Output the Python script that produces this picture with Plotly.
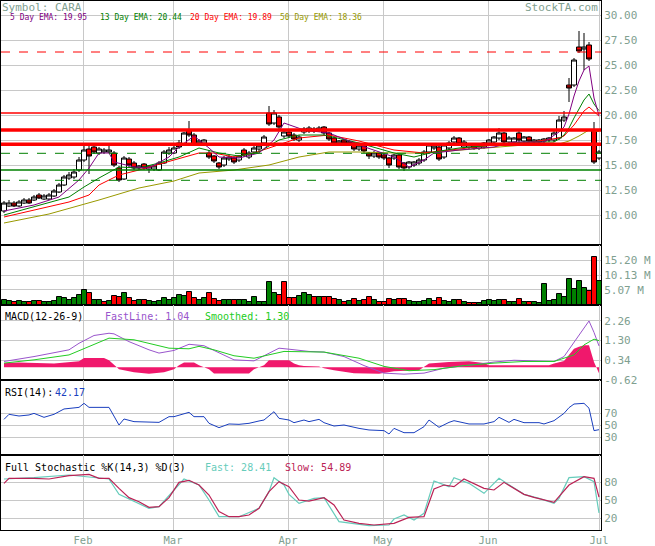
import plotly.graph_objects as go
from plotly.subplots import make_subplots

# ---------------- data ----------------
day = list(range(120))
opens = [10.4, 10.9, 11.2, 10.9, 11.2, 11.5, 11.5, 12.0, 11.6, 11.6,
         11.9, 12.3, 13.0, 13.7, 13.8, 14.5, 15.5, 16.6, 16.8, 16.2,
         16.3, 16.3, 16.2, 14.7, 13.6, 15.6, 15.2, 14.7, 15.1, 14.6,
         14.6, 14.5, 15.2, 16.2, 16.2, 17.2, 17.0, 18.5, 18.0, 17.2,
         17.2, 16.2, 15.9, 15.2, 15.0, 15.6, 15.7, 15.5, 16.5, 15.8,
         16.3, 16.6, 17.2, 20.2, 19.2, 19.8, 17.9, 18.3, 18.0, 17.5,
         18.3, 18.4, 18.6, 18.5, 18.8, 18.2, 17.7, 17.2, 17.5, 17.2,
         17.2, 16.6, 16.9, 16.2, 15.9, 16.2, 16.0, 15.7, 15.7, 16.0,
         15.2, 14.8, 15.0, 15.2, 15.5, 16.3, 16.7, 16.8, 15.8, 16.7,
         17.3, 17.7, 16.8, 16.8, 17.0, 16.7, 16.8, 17.2, 17.3, 17.7,
         18.2, 17.3, 17.3, 18.2, 17.4, 17.8, 17.3, 17.3, 17.4, 17.5,
         17.5, 17.7, 19.5, 23.0, 23.0, 26.8, 26.6, 27.0, 18.5, 15.7]
closes = [11.2, 11.2, 10.9, 11.3, 11.5, 11.2, 11.8, 11.7, 11.9, 12.0,
          12.4, 13.0, 13.8, 14.0, 14.3, 15.5, 16.5, 15.9, 16.3, 16.6,
          16.5, 16.5, 15.0, 13.5, 15.7, 15.0, 14.7, 14.9, 14.7, 14.9,
          14.9, 15.2, 16.3, 16.5, 16.7, 16.8, 18.2, 18.0, 17.0, 17.4,
          17.5, 15.8, 15.4, 14.8, 15.7, 15.8, 15.3, 15.9, 16.0, 16.2,
          16.7, 16.9, 17.8, 19.1, 20.2, 18.8, 18.3, 17.9, 17.6, 17.8,
          18.6, 18.7, 18.4, 18.7, 18.2, 17.6, 17.2, 17.4, 17.2, 17.3,
          16.6, 16.9, 16.4, 15.9, 16.2, 15.8, 15.7, 15.0, 16.0, 14.8,
          14.7, 15.3, 15.3, 15.5, 16.3, 17.0, 16.9, 15.6, 17.0, 17.2,
          17.7, 17.1, 17.3, 17.1, 16.7, 17.0, 17.2, 17.5, 17.8, 18.2,
          17.3, 17.7, 17.7, 17.5, 17.8, 17.4, 17.5, 17.5, 17.6, 17.7,
          18.2, 19.5, 19.8, 22.7, 25.5, 26.4, 26.8, 25.6, 15.3, 16.3]
highs = [11.4, 11.5, 11.4, 11.5, 11.7, 11.7, 12.0, 12.2, 12.1, 12.2,
         12.6, 13.2, 14.0, 14.3, 14.6, 15.8, 16.9, 16.9, 17.0, 16.8,
         16.7, 16.9, 16.4, 14.9, 15.9, 15.8, 15.4, 15.0, 15.2, 15.0,
         15.0, 15.4, 16.5, 16.8, 17.0, 17.5, 18.3, 19.4, 18.2, 17.6,
         17.6, 16.5, 16.0, 15.3, 15.9, 16.0, 15.9, 16.0, 16.7, 16.4,
         16.9, 17.1, 18.0, 20.9, 20.5, 20.0, 18.6, 18.5, 18.2, 18.0,
         18.8, 18.9, 18.8, 18.9, 18.9, 18.3, 17.9, 17.5, 17.6, 17.5,
         17.3, 17.0, 17.0, 16.3, 16.4, 16.3, 16.1, 15.8, 16.1, 16.1,
         15.3, 15.4, 15.4, 15.7, 16.5, 17.2, 17.1, 16.9, 17.2, 17.4,
         17.9, 17.8, 17.5, 17.2, 17.1, 17.1, 17.3, 17.6, 17.9, 18.7,
         18.3, 17.9, 17.8, 18.6, 17.9, 17.9, 17.6, 17.6, 17.7, 17.8,
         18.4, 19.9, 20.4, 23.7, 25.7, 28.4, 28.2, 27.3, 19.3, 16.5]
lows = [10.2, 10.8, 10.8, 10.8, 11.1, 11.1, 11.4, 11.6, 11.5, 11.5,
        11.8, 12.2, 12.9, 13.5, 13.6, 14.3, 15.3, 14.1, 16.1, 16.0,
        16.1, 16.2, 14.8, 13.3, 13.5, 14.8, 14.5, 14.5, 14.5, 14.2,
        14.4, 14.4, 15.1, 16.0, 16.1, 16.6, 16.9, 17.8, 16.9, 17.0,
        17.0, 15.6, 15.2, 14.6, 14.8, 15.4, 15.1, 15.3, 15.8, 15.6,
        16.1, 16.4, 17.0, 18.9, 19.0, 18.6, 17.7, 17.7, 17.4, 17.3,
        18.1, 18.2, 18.2, 18.3, 18.0, 17.4, 17.0, 17.0, 17.0, 17.0,
        16.4, 16.4, 16.2, 15.6, 15.7, 15.6, 15.5, 14.7, 15.5, 14.6,
        14.4, 14.6, 14.8, 15.0, 15.3, 16.1, 16.5, 15.4, 15.6, 16.5,
        17.1, 16.9, 16.6, 16.6, 16.5, 16.5, 16.6, 17.0, 17.1, 17.5,
        17.1, 17.1, 17.1, 17.3, 17.2, 17.2, 17.1, 17.1, 17.0, 17.3,
        17.3, 17.5, 19.3, 21.3, 22.8, 26.2, 24.5, 25.4, 15.1, 15.5]
volume_m = [1.7, 1.4, 1.1, 1.4, 0.9, 0.9, 1.4, 1.4, 0.9, 1.1,
            1.4, 2.6, 2.3, 1.7, 2.3, 3.4, 5.1, 3.9, 1.7, 1.7,
            1.1, 1.4, 3.0, 2.6, 3.9, 2.3, 1.4, 1.7, 1.7, 1.5,
            1.1, 1.5, 2.3, 1.7, 2.5, 3.4, 3.0, 4.3, 2.3, 1.7,
            2.3, 4.2, 1.9, 1.5, 1.7, 1.7, 1.7, 1.7, 1.7, 0.9,
            2.6, 0.9, 0.9, 7.7, 3.9, 3.4, 7.7, 2.5, 2.3, 3.2,
            3.9, 3.4, 2.8, 2.6, 2.6,
            2.6, 1.9, 1.7, 1.1, 1.4, 2.0, 1.4, 1.7, 2.6, 1.7,
            1.1, 1.1, 2.0, 1.7, 1.9, 1.9, 1.4, 1.1, 1.1, 1.4,
            2.0, 1.4, 2.5, 1.4, 0.9, 1.7, 1.7, 0.9, 0.8, 0.8,
            0.6, 1.4, 1.7, 1.4, 1.7, 1.7, 1.1, 0.9, 2.0, 0.9,
            0.9, 0.9, 0.6, 7.0, 1.4, 1.7, 3.6, 2.8, 8.8, 5.4,
            8.1, 5.6, 4.7, 16.1, 8.1]

ema5_x = [0, 6, 11, 15, 17, 19, 21, 22, 26, 29, 33, 35, 38, 41, 43, 47, 51, 54, 56, 60,
          65, 71, 78, 81, 84, 86, 91, 98, 102, 108, 111, 112, 113, 114, 115, 116, 117, 118, 119]
ema5_y = [10.4, 11.0, 11.8, 13.5, 14.7, 16.2, 16.2, 15.3, 14.8, 14.7, 15.8, 16.8, 17.9, 16.7, 15.8,
          15.7, 16.2, 17.5, 19.2, 18.5, 18.2, 17.0, 15.8, 14.8, 15.5, 16.2, 16.5, 16.8, 17.3, 17.3,
          18.3, 18.8, 20.1, 21.9, 23.4, 24.5, 24.9, 21.7, 19.95]
ema13_x = [0, 6, 13, 16, 19, 23, 27, 31, 35, 39, 43, 47, 51, 55, 59, 64, 71, 78, 82, 86, 91, 98,
           104, 110, 111, 112, 113, 114, 115, 116, 117, 118, 119]
ema13_y = [10.0, 10.8, 11.8, 12.8, 13.7, 14.8, 14.7, 15.2, 15.8, 16.7, 16.2, 15.9, 16.3, 17.5, 18.0,
           18.0, 17.2, 16.2, 15.8, 16.3, 16.7, 17.0, 17.3, 17.3, 17.6, 18.0, 18.7, 19.7, 20.6, 21.5,
           22.1, 21.1, 20.44]
ema20_x = [0, 6, 13, 17, 19, 23, 27, 34, 39, 42, 46, 50, 55, 59, 65, 71, 78, 84, 91, 98, 104, 111,
           112, 113, 114, 115, 116, 117, 118, 119]
ema20_y = [9.8, 10.5, 11.3, 12.0, 13.0, 14.0, 14.5, 15.5, 16.2, 16.2, 15.8, 16.2, 17.0, 17.7, 18.0,
           17.4, 16.5, 16.2, 16.6, 17.0, 17.2, 17.7, 17.9, 18.4, 19.0, 19.7, 20.4, 20.8, 20.3, 19.89]
ema50_x = [0, 9, 19, 27, 34, 39, 46, 53, 59, 65, 71, 78, 84, 91, 98, 104, 111, 113, 115, 117, 118, 119]
ema50_y = [9.2, 10.1, 11.5, 12.7, 13.4, 14.2, 14.5, 15.0, 15.8, 16.3, 16.3, 16.2, 16.2, 16.5, 16.8,
           17.0, 17.1, 17.4, 17.9, 18.5, 18.4, 18.36]

sr_levels = [26.3, 20.2, 18.5, 17.07, 16.17, 14.5, 13.47]
sr_colors = ["red", "red", "red", "red", "green", "green", "green"]
sr_widths = [1, 1.5, 3.5, 3.5, 1, 1.5, 1]
sr_dash = ["dash", "solid", "solid", "solid", "dash", "solid", "dash"]

macd_fast_x = [0, 6, 13, 15, 18, 21, 22, 25, 29, 31, 34, 37, 40, 43, 46, 50, 53, 55, 57, 61, 64,
               68, 72, 76, 80, 84, 88, 92, 98, 102, 106, 110, 112, 115, 117, 118, 119]
macd_fast_y = [0.28, 0.52, 0.85, 1.17, 1.55, 1.66, 1.63, 1.25, 0.85, 0.69, 0.82, 1.12, 1.05, 0.69,
               0.36, 0.31, 0.69, 0.93, 0.88, 0.77, 0.74, 0.52, 0.08, -0.29, -0.34, -0.29, -0.05,
               0.08, 0.25, 0.34, 0.31, 0.28, 0.52, 1.58, 2.26, 1.70, 1.04]
macd_slow_x = [0, 6, 13, 16, 21, 26, 33, 37, 39, 42, 46, 50, 53, 56, 64, 71, 76, 81, 86, 92, 98,
               104, 110, 114, 116, 118, 119]
macd_slow_y = [0.2, 0.36, 0.6, 0.9, 1.42, 1.34, 0.93, 0.9, 1.02, 0.85, 0.56, 0.44, 0.6, 0.77, 0.74,
               0.44, 0.04, -0.17, -0.12, 0.08, 0.2, 0.28, 0.28, 0.6, 1.09, 1.37, 1.30]
macd_hist_x = [0, 3, 10, 15, 16, 20, 21, 22, 23, 26, 29, 32, 34, 35, 36, 38, 39, 41, 42, 49, 50,
               52, 53, 57, 58, 59, 60, 63, 64, 66, 70, 75, 78, 83, 84, 85, 89, 93, 96, 97, 109,
               110, 112, 113, 114, 115, 116, 117, 118, 119]
macd_hist_y = [0.2, 0.23, 0.18, 0.29, 0.45, 0.45, 0.34, 0.1, -0.1, -0.25, -0.32, -0.25, -0.1, 0.1,
               0.23, 0.23, 0.1, -0.1, -0.31, -0.31, -0.1, 0.1, 0.34, 0.34, 0.18, 0.1, 0.06, 0.03,
               -0.05, -0.15, -0.3, -0.32, -0.2, -0.15, 0.0, 0.18, 0.25, 0.29, 0.2, 0.1, 0.1, 0.18,
               0.3, 0.58, 0.9, 1.0, 1.07, 1.07, 0.26, -0.3]

rsi_x = [0, 1, 3, 5, 6, 8, 10, 12, 15, 16, 17, 21, 23, 24, 26, 28, 31, 33, 34, 37, 38, 40, 41,
         43, 45, 47, 49, 51, 52, 54, 55, 57, 58, 60, 61, 63, 64, 66, 68, 71, 73, 76, 77, 78, 80,
         82, 84, 85, 87, 89, 90, 93, 96, 98, 99, 101, 102, 104, 107, 108, 110, 112, 113, 114,
         116, 117, 118, 119]
rsi_y = [59.4, 67.8, 65.0, 66.7, 69.4, 62.8, 67.8, 76.7, 79.4, 86.1, 79.4, 79.4, 50.0, 60.0, 55.6,
         55.6, 54.4, 63.9, 63.9, 71.1, 63.9, 63.9, 52.8, 45.6, 51.7, 51.1, 52.8, 56.7, 58.3, 72.2,
         61.1, 58.3, 53.9, 58.3, 55.6, 59.4, 53.9, 48.3, 50.0, 44.4, 41.7, 40.6, 35.0, 44.4, 37.2,
         37.2, 47.2, 58.3, 46.1, 54.4, 57.2, 51.7, 51.7, 55.6, 62.8, 54.4, 59.4, 53.9, 53.9, 51.7,
         57.2, 69.4, 78.9, 85.0, 86.1, 78.0, 40.6, 42.17]

stk_fast_x = [0, 6, 13, 21, 23, 26, 29, 31, 34, 36, 39, 41, 43, 47, 51, 53, 54, 56, 57, 59, 62,
              64, 67, 71, 73, 77, 78, 80, 82, 84, 86, 89, 90, 93, 96, 99, 102, 104, 107, 110,
              111, 113, 116, 118, 119]
stk_fast_y = [85.0, 87.2, 91.7, 85.0, 59.4, 47.2, 36.1, 38.9, 66.7, 85.0, 75.0, 50.0, 22.2, 22.2,
              36.1, 63.9, 87.2, 75.0, 59.4, 44.4, 52.8, 53.9, 13.9, 10.0, 7.2, 8.3, 18.3, 25.0,
              16.7, 27.8, 81.7, 72.2, 87.2, 77.8, 61.1, 86.1, 69.4, 59.4, 52.8, 44.4, 52.8, 87.2,
              88.9, 80.6, 28.41]
stk_slow_x = [0, 1, 6, 9, 13, 17, 19, 21, 23, 25, 27, 29, 31, 33, 35, 37, 39, 41, 43, 45, 47, 49,
              51, 53, 55, 57, 59, 61, 64, 66, 68, 71, 74, 78, 81, 84, 86, 88, 90, 92, 96, 98, 100,
              104, 106, 110, 113, 116, 118, 119]
stk_slow_y = [77.8, 86.1, 86.1, 85.0, 90.6, 92.8, 86.1, 86.1, 69.4, 53.9, 47.2, 37.8, 38.9, 53.9,
              79.4, 82.8, 75.0, 58.3, 30.6, 22.2, 22.2, 25.0, 36.1, 63.9, 80.6, 72.2, 50.0, 48.3,
              53.9, 41.7, 16.7, 11.1, 8.3, 11.1, 21.1, 22.2, 68.3, 75.0, 72.2, 85.0, 69.4, 66.7,
              79.4, 59.4, 54.4, 46.1, 75.0, 88.9, 86.1, 54.89]

month_pos = [15.8, 33.8, 56.8, 75.8, 96.8, 119.0]
month_txt = ["Feb", "Mar", "Apr", "May", "Jun", "Jul"]

# ---------------- figure ----------------
W, H = 655, 546
ML, MR, MT, MB = 1, 54, 1, 16
PW, PH = W - ML - MR, H - MT - MB

fig = make_subplots(rows=5, cols=1, shared_xaxes=True, vertical_spacing=0,
                    row_heights=[244, 60, 75, 75, 75])

fig.add_trace(go.Candlestick(
    x=day, open=opens, high=highs, low=lows, close=closes, whiskerwidth=0,
    increasing=dict(line=dict(color="black", width=1), fillcolor="white"),
    decreasing=dict(line=dict(color="black", width=1), fillcolor="#ff0000"),
    showlegend=False), row=1, col=1)

for xs, ys, col in [(ema50_x, ema50_y, "#999900"), (ema20_x, ema20_y, "#ff0000"),
                    (ema13_x, ema13_y, "#008000"), (ema5_x, ema5_y, "#800080")]:
    fig.add_trace(go.Scatter(x=xs, y=ys, mode="lines", line=dict(color=col, width=1),
                             showlegend=False), row=1, col=1)

vcol = ["#008000" if i == 0 or closes[i] >= closes[i - 1] else "#ff0000" for i in day]
fig.add_trace(go.Bar(x=day, y=volume_m, marker=dict(color=vcol, line=dict(color="black", width=1)),
                     showlegend=False), row=2, col=1)

fig.add_trace(go.Scatter(x=macd_hist_x, y=macd_hist_y, mode="lines", fill="tozeroy",
                         line=dict(width=0, color="#f0186c"), fillcolor="#f0186c",
                         showlegend=False), row=3, col=1)
fig.add_trace(go.Scatter(x=macd_fast_x, y=macd_fast_y, mode="lines",
                         line=dict(color="#9955cc", width=1), showlegend=False), row=3, col=1)
fig.add_trace(go.Scatter(x=macd_slow_x, y=macd_slow_y, mode="lines",
                         line=dict(color="#22cc22", width=1), showlegend=False), row=3, col=1)

fig.add_trace(go.Scatter(x=rsi_x, y=rsi_y, mode="lines", line=dict(color="#1a3fbf", width=1),
                         showlegend=False), row=4, col=1)

fig.add_trace(go.Scatter(x=stk_fast_x, y=stk_fast_y, mode="lines",
                         line=dict(color="#66ccbb", width=1.2), showlegend=False), row=5, col=1)
fig.add_trace(go.Scatter(x=stk_slow_x, y=stk_slow_y, mode="lines",
                         line=dict(color="#bb2255", width=1.2), showlegend=False), row=5, col=1)

for lvl, c, w, d in zip(sr_levels, sr_colors, sr_widths, sr_dash):
    fig.add_hline(y=lvl, line=dict(color=c, width=w, dash=d), row=1, col=1)

TICKC = "#80a090"
MONO = "DejaVu Sans Mono"
grid = "#c8c8c8"
for r in range(1, 6):
    fig.update_xaxes(range=[-0.6, 119.4], tickvals=month_pos, ticktext=month_txt,
                     showgrid=True, gridcolor=grid, gridwidth=1, showline=True,
                     linecolor="black", linewidth=1, mirror=True, zeroline=False, ticks="",
                     showticklabels=(r == 5), tickfont=dict(family=MONO, size=10.5, color=TICKC),
                     ticklabelstandoff=0, automargin=False, rangeslider_visible=False,
                     row=r, col=1)

yax = dict(side="right", showgrid=True, gridcolor=grid, gridwidth=1, showline=True,
           linecolor="black", linewidth=1, mirror=True, zeroline=False, ticks="",
           automargin=False, tickfont=dict(family=MONO, size=11, color=TICKC))
fig.update_yaxes(range=[7.0, 31.4], tickvals=[10, 12.5, 15, 17.5, 20, 22.5, 25, 27.5, 30],
                 tickformat=".2f", row=1, col=1, **yax)
fig.update_yaxes(range=[0, 20.27], tickvals=[5.07, 10.13, 15.20],
                 ticktext=["5.07 M", "10.13 M", "15.20 M"], row=2, col=1, **yax)
fig.update_yaxes(range=[-0.625, 3.04], tickvals=[-0.62, 0.34, 1.30, 2.26],
                 ticktext=["-0.62", "0.34", "1.30", "2.26"], row=3, col=1, **yax)
fig.update_yaxes(range=[0, 125], tickvals=[30, 50, 70], row=4, col=1, **yax)
fig.update_yaxes(range=[0, 125], tickvals=[20, 50, 80], row=5, col=1, **yax)


def px(xp, yp):
    return (xp - ML) / PW, (H - MB - yp) / PH


def label(xp, yp, text, color, size, anchor="left"):
    x, y = px(xp, yp)
    fig.add_annotation(x=x, y=y, xref="paper", yref="paper", text=text, showarrow=False,
                       xanchor=anchor, yanchor="middle", borderpad=0,
                       font=dict(family=MONO, size=size, color=color))


label(1, 7.5, "Symbol: CARA", TICKC, 11)
label(599, 7.5, "StockTA.com", TICKC, 11, "right")
label(9, 17.5, "5 Day EMA: 19.95", "#800080", 8)
label(99, 17.5, "13 Day EMA: 20.44", "#008000", 8)
label(189, 17.5, "20 Day EMA: 19.89", "#ff0000", 8)
label(279, 17.5, "50 Day EMA: 18.36", "#999900", 8)
label(4, 317, "MACD(12-26-9)", "black", 10)
label(104, 317, "FastLine: 1.04", "#9955cc", 10)
label(204, 317, "Smoothed: 1.30", "#22cc22", 10)
label(4, 392, "RSI(14):", "black", 10)
label(54, 392, "42.17", "#1a3fbf", 10)
label(4, 467, "Full Stochastic %K(14,3) %D(3)", "black", 10)
label(204, 467, "Fast: 28.41", "#66ccbb", 10)
label(284, 467, "Slow: 54.89", "#bb2255", 10)

fig.update_layout(width=W, height=H, margin=dict(l=ML, r=MR, t=MT, b=MB, autoexpand=False),
                  paper_bgcolor="white", plot_bgcolor="white", bargap=0,
                  boxgap=0, boxgroupgap=0, showlegend=False)

fig.write_html("out.html", config={"displayModeBar": False},
               post_script="document.body.style.margin='0';")
